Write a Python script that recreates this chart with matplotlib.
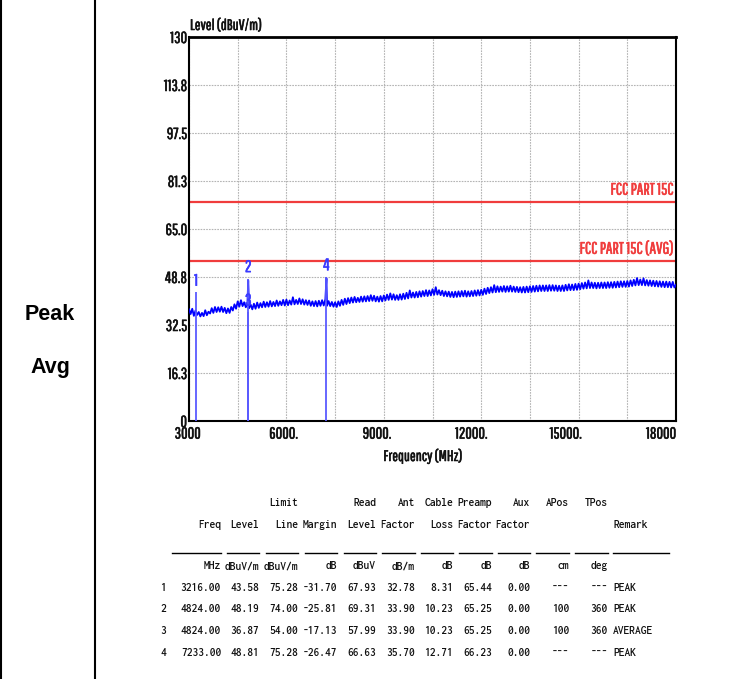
import numpy as np
import matplotlib
matplotlib.use('Agg')
import matplotlib.pyplot as plt
from matplotlib import font_manager
from matplotlib.lines import Line2D
import matplotlib.transforms as mtrans
import matplotlib.patheffects as pe

# ---------------- data ----------------
freq_start, freq_stop, freq_step = 3000, 18000, 50
trace_level = [
    37.8, 36.2, 38.0, 35.6, 37.4, 35.9, 36.9, 35.4, 36.6, 35.5,
    37.5, 35.8, 37.0, 36.4, 38.2, 36.6, 38.6, 36.9, 38.5, 37.0,
    38.7, 36.9, 38.3, 36.5, 38.1, 36.6, 38.6, 37.4, 39.5, 38.0,
    40.5, 38.7, 40.9, 38.9, 40.2, 38.5, 39.9, 38.2, 39.4, 37.8,
    39.7, 38.0, 40.1, 38.3, 39.9, 38.5, 40.4, 38.6, 40.2, 38.7,
    40.6, 38.8, 40.3, 38.9, 40.8, 39.0, 40.5, 39.2, 41.0, 39.1,
    41.1, 39.2, 40.8, 39.4, 41.9, 39.5, 41.0, 39.6, 41.5, 39.6,
    41.2, 39.4, 40.9, 39.3, 40.8, 39.0, 40.5, 38.9, 40.6, 38.8,
    40.7, 39.0, 40.9, 39.1, 41.2, 39.0, 40.6, 38.9, 40.3, 38.7,
    40.2, 38.6, 40.5, 39.0, 41.0, 39.3, 41.4, 39.6, 41.6, 39.9,
    41.8, 40.1, 42.0, 40.2, 41.7, 40.3, 42.1, 40.4, 42.2, 40.5,
    42.3, 40.6, 42.6, 40.7, 42.4, 40.5, 42.1, 40.4, 42.3, 40.5,
    42.5, 40.8, 42.8, 41.0, 43.2, 41.1, 42.9, 41.0, 42.6, 41.0,
    42.9, 41.1, 43.1, 41.3, 43.4, 41.5, 44.2, 41.8, 43.5, 41.8,
    43.7, 41.9, 43.9, 42.1, 44.0, 42.3, 44.3, 42.3, 44.2, 42.5,
    44.6, 42.7, 45.3, 42.8, 44.3, 42.6, 44.1, 42.3, 43.9, 42.2,
    43.8, 42.0, 43.7, 41.9, 43.8, 42.0, 43.9, 42.1, 44.0, 42.2,
    44.1, 42.1, 43.9, 42.2, 44.0, 42.3, 44.2, 42.4, 44.3, 42.5,
    44.4, 42.7, 44.8, 43.0, 45.1, 43.3, 45.3, 43.5, 46.0, 43.6,
    45.6, 43.7, 45.5, 43.8, 45.7, 43.7, 45.6, 43.8, 45.8, 43.8,
    45.5, 43.7, 45.4, 43.6, 45.3, 43.5, 45.4, 43.5, 45.5, 43.6,
    45.6, 43.7, 45.7, 43.8, 45.8, 43.9, 45.9, 44.0, 45.9, 44.0,
    45.9, 44.0, 46.0, 44.1, 46.0, 44.1, 45.9, 44.0, 45.8, 44.0,
    45.9, 44.0, 46.1, 44.2, 46.3, 44.3, 46.2, 44.3, 46.4, 44.4,
    46.5, 44.6, 46.7, 44.8, 46.9, 44.9, 47.6, 45.0, 46.9, 45.0,
    46.8, 44.9, 46.8, 45.0, 46.9, 45.0, 46.9, 45.0, 47.0, 45.1,
    47.0, 45.1, 47.1, 45.2, 47.2, 45.3, 47.3, 45.4, 47.3, 45.4,
    47.4, 45.5, 47.6, 45.7, 47.8, 45.9, 48.4, 46.0, 47.9, 46.0,
    48.3, 45.9, 47.7, 45.8, 47.6, 45.7, 47.5, 45.6, 47.4, 45.5,
    47.3, 45.4, 47.2, 45.3, 47.2, 45.3, 47.1, 45.2, 47.1, 45.2,
    46.1,
]
spike_freq = [4824, 7233]
spike_level = [47.6, 48.3]

peak_limit = 74.0
avg_limit = 54.0
limit_labels = ['FCC PART 15C', 'FCC PART 15C (AVG)']

marker_no = ['1', '2', '3', '4']
marker_freq = [3216.00, 4824.00, 4824.00, 7233.00]
marker_level = [43.58, 48.19, 36.87, 48.81]
limit_line = [75.28, 74.00, 54.00, 75.28]
margin = [-31.70, -25.81, -17.13, -26.47]
read_level = [67.93, 69.31, 57.99, 66.63]
ant_factor = [32.78, 33.90, 33.90, 35.70]
cable_loss = [8.31, 10.23, 10.23, 12.71]
preamp_factor = [65.44, 65.25, 65.25, 66.23]
aux_factor = [0.00, 0.00, 0.00, 0.00]
apos = ['---', '100', '100', '---']
tpos = ['---', '360', '360', '---']
remark = ['PEAK', 'PEAK', 'AVERAGE', 'PEAK']

y_ticks = [0, 16.25, 32.5, 48.75, 65.0, 81.25, 97.5, 113.75, 130]
y_tick_labels = ['0', '16.3', '32.5', '48.8', '65.0', '81.3', '97.5', '113.8', '130']
x_ticks = [3000, 6000, 9000, 12000, 15000, 18000]
x_tick_labels = ['3000', '6000.', '9000.', '12000.', '15000.', '18000']

header1 = ['', '', 'Limit', '', 'Read', 'Ant', 'Cable', 'Preamp', 'Aux', 'APos', 'TPos']
header2 = ['Freq', 'Level', 'Line', 'Margin', 'Level', 'Factor', 'Loss', 'Factor', 'Factor', '', '']
units = ['MHz', 'dBuV/m', 'dBuV/m', 'dB', 'dBuV', 'dB/m', 'dB', 'dB', 'dB', 'cm', 'deg']

# ---------------- fonts ----------------
names = {f.name for f in font_manager.fontManager.ttflist}


def pick(prefs):
    for p in prefs:
        if p in names:
            return p
    return 'DejaVu Sans'


narrow = pick(['Pathway Gothic One', 'Antonio', 'Saira Extra Condensed',
               'Fira Sans Extra Condensed', 'Roboto Condensed'])
mono = pick(['Inconsolata', 'Ubuntu Mono', 'DejaVu Sans Mono'])
bold_sans = pick(['Liberation Sans', 'Arimo', 'DejaVu Sans'])

W, H = 747, 679
fig = plt.figure(figsize=(W / 100, H / 100), dpi=100)
fig.patch.set_facecolor('white')


def fx(x):
    return x / W


def fy(y):
    return 1 - y / H


def heavy(color):
    return [pe.withStroke(linewidth=0.4, foreground=color)]


# ---------------- left cell ----------------
fig.add_artist(Line2D([fx(1.5), fx(1.5)], [0, 1], color='black', lw=1.5))
fig.add_artist(Line2D([fx(94.5), fx(94.5)], [0, 1], color='black', lw=1.5))
fig.text(fx(50), fy(314), 'Peak', ha='center', va='center', fontsize=15.5,
         fontweight='bold', family=bold_sans)
fig.text(fx(50), fy(367), 'Avg', ha='center', va='center', fontsize=15.5,
         fontweight='bold', family=bold_sans)

# ---------------- plot ----------------
ax = fig.add_axes([fx(189), fy(421), (676 - 189) / W, (421 - 37) / H])
freqs = np.arange(freq_start, freq_stop + 1, freq_step)
all_f = np.concatenate([freqs, spike_freq])
all_l = np.concatenate([trace_level, spike_level])
order = np.argsort(all_f)
ax.plot(all_f[order], all_l[order], color='#0000ff', lw=1.3, zorder=3)

ax.vlines(marker_freq, 0, marker_level, color='#5a5aff', lw=1.3, zorder=4)
for n, f, l in zip(marker_no, marker_freq, marker_level):
    ax.text(f, l + 1.2, n, ha='center', va='bottom', color='#3a3aff',
            fontsize=12, family=narrow, zorder=5, path_effects=heavy('#3a3aff'))

red = '#f03c3c'
for lim, lab in zip([peak_limit, avg_limit], limit_labels):
    ax.axhline(lim, color=red, lw=1.6, zorder=2)
    ax.text(0.994, lim + 1.6, lab, transform=ax.get_yaxis_transform(),
            ha='right', va='bottom', color=red, fontsize=12, family=narrow,
            path_effects=heavy(red))

ax.set_xlim(3000, 18000)
ax.set_ylim(0, 130)
ax.set_xticks(x_ticks)
ax.set_xticklabels(x_tick_labels)
ax.set_xticks(np.arange(3000, 18001, 1500), minor=True)
ax.set_yticks(y_ticks)
ax.set_yticklabels(y_tick_labels)
ax.grid(True, which='both', color='#b4b4b4', lw=0.8, ls=(0, (1.5, 1.0)), zorder=0)
ax.tick_params(which='both', length=0, labelsize=11.5, labelcolor='#111111')
ax.tick_params(axis='y', pad=1.5)
ax.tick_params(axis='x', pad=4)
for lab in ax.get_xticklabels() + ax.get_yticklabels():
    lab.set_family(narrow)
    lab.set_path_effects(heavy('#111111'))
x_dx = [-1.5, -3, -7, -10, -13, -15]
for lab, dx in zip(ax.get_xticklabels(), x_dx):
    lab.set_transform(lab.get_transform() + mtrans.ScaledTranslation(dx / 100, 0, fig.dpi_scale_trans))
for s in ax.spines.values():
    s.set_linewidth(1.5)
ax.spines['top'].set_linewidth(2)

fig.text(fx(190), fy(26), 'Level (dBuV/m)', ha='left', va='center', fontsize=11,
         family=narrow, color='#111111', path_effects=heavy('#111111'))
fig.text(fx(423), fy(457), 'Frequency (MHz)', ha='center', va='center', fontsize=11,
         family=narrow, color='#111111', path_effects=heavy('#111111'))

# ---------------- table ----------------
col_right = [221, 259, 298, 337, 376, 415, 453, 492, 530, 569, 608]
remark_x = 613
index_x = 163
tfs = 8.3
tcol = '#111111'
tkw = dict(va='center', fontsize=tfs, family=mono, color=tcol, fontweight='semibold')
for i, t in enumerate(header1):
    if t:
        fig.text(fx(col_right[i]), fy(503), t, ha='right', **tkw)
for i, t in enumerate(header2):
    if t:
        fig.text(fx(col_right[i]), fy(525), t, ha='right', **tkw)
fig.text(fx(remark_x), fy(525), 'Remark', ha='left', **tkw)
for i, t in enumerate(units):
    fig.text(fx(col_right[i]), fy(566), t, ha='right', **tkw)
seg_left = [172, 227, 266, 305, 344, 382, 421, 459, 498, 536, 575]
for l, r in zip(seg_left, col_right):
    fig.add_artist(Line2D([fx(l), fx(r)], [fy(553), fy(553)], color='black', lw=1.0))
fig.add_artist(Line2D([fx(613), fx(669)], [fy(553), fy(553)], color='black', lw=1.0))

rows_y = [588, 609, 631, 653]
for k in range(4):
    vals = [f'{marker_freq[k]:.2f}', f'{marker_level[k]:.2f}', f'{limit_line[k]:.2f}',
            f'{margin[k]:.2f}', f'{read_level[k]:.2f}', f'{ant_factor[k]:.2f}',
            f'{cable_loss[k]:.2f}', f'{preamp_factor[k]:.2f}', f'{aux_factor[k]:.2f}',
            apos[k], tpos[k]]
    y = fy(rows_y[k])
    fig.text(fx(index_x), y, marker_no[k], ha='center', **tkw)
    for i, v in enumerate(vals):
        fig.text(fx(col_right[i]), y, v, ha='right', **tkw)
    fig.text(fx(remark_x), y, remark[k], ha='left', **tkw)

fig.savefig('out.png', dpi=100, facecolor='white')
